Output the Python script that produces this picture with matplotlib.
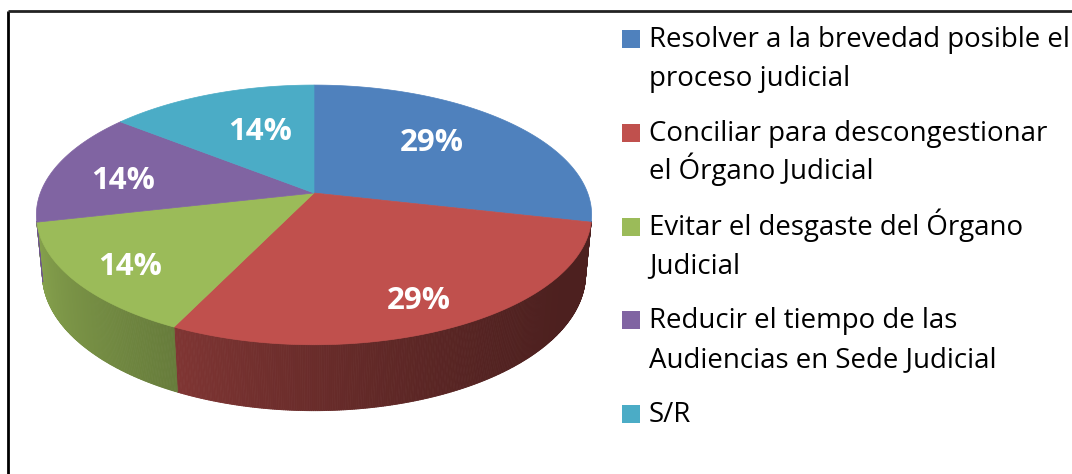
import numpy as np
import matplotlib
matplotlib.use("Agg")
import matplotlib.pyplot as plt
from matplotlib.collections import PolyCollection
from matplotlib.patches import Polygon, Rectangle

# ---- data ----
categories = [
    "Resolver a la brevedad posible el\nproceso judicial",
    "Conciliar para descongestionar\nel Órgano Judicial",
    "Evitar el desgaste del Órgano\nJudicial",
    "Reducir el tiempo de las\nAudiencias en Sede Judicial",
    "S/R",
]
values = [2, 2, 1, 1, 1]
colors = ["#4F81BD", "#C0504D", "#9BBB59", "#8064A2", "#4BACC6"]

# ---- geometry of the 3D pie (perspective projection) ----
W, Hpx = 1072, 474
fig = plt.figure(figsize=(W / 100, Hpx / 100), dpi=100)
ax = fig.add_axes([0, 0, 1, 1])
ax.set_xlim(0, W)
ax.set_ylim(Hpx, 0)
ax.axis("off")

cx, cy = 314.0, 193.0
theta = np.radians(27.45)
s, c = np.sin(theta), np.cos(theta)
D = 5.262
F = 1440.0
TH = 0.245


def proj(u, w, h):
    depth = D - h * s + w * c
    X = F * u / depth
    Y = F * (h * c + w * s) / depth
    return cx + X, cy - Y


def rgb(hexc):
    hexc = hexc.lstrip("#")
    return np.array([int(hexc[i:i + 2], 16) / 255 for i in (0, 2, 4)])


def shade(phi):
    return 0.66 - 0.2367 * np.cos(phi) + 0.11 * np.sin(phi)


total = float(sum(values))
fracs = np.array(values) / total
starts = 90 - 360 * np.concatenate([[0], np.cumsum(fracs)[:-1]])
ends = starts - 360 * fracs

# sides (front-facing only)
limit = -1.0 / (D * c)
side_polys, side_cols = [], []
for a1, a2, col in zip(starts, ends, colors):
    base = rgb(col)
    angs = np.radians(np.linspace(a1, a2, int(abs(a1 - a2) * 3) + 2))
    for p, q in zip(angs[:-1], angs[1:]):
        m = 0.5 * (p + q)
        if np.sin(m) >= limit:
            continue
        t1 = proj(np.cos(p), np.sin(p), 0)
        t2 = proj(np.cos(q), np.sin(q), 0)
        b2 = proj(np.cos(q), np.sin(q), -TH)
        b1 = proj(np.cos(p), np.sin(p), -TH)
        side_polys.append([t1, t2, b2, b1])
        side_cols.append(np.clip(base * shade(m), 0, 1))
pc = PolyCollection(side_polys, facecolors=side_cols, edgecolors=side_cols,
                    linewidths=0.6, zorder=2)
ax.add_collection(pc)

# top faces
for a1, a2, col in zip(starts, ends, colors):
    angs = np.radians(np.linspace(a1, a2, 200))
    pts = [proj(0, 0, 0)] + [proj(np.cos(a), np.sin(a), 0) for a in angs]
    ax.add_patch(Polygon(pts, closed=True, facecolor=col, edgecolor=col,
                         linewidth=0.5, zorder=3))

# data labels
label_r = [0.62, 0.79, 0.79, 0.74, 0.55]
label_nudge = [(-7, -7), (-2, 3), (0, 3), (1, 5), (6, -6)]
for a1, a2, fr, r, (dx, dy) in zip(starts, ends, fracs, label_r, label_nudge):
    m = np.radians(0.5 * (a1 + a2))
    x, y = proj(r * np.cos(m), r * np.sin(m), 0)
    ax.text(x + dx, y + 11 + dy, f"{fr * 100:.0f}%", color="white",
            fontsize=22.5, fontweight="bold", family="Open Sans",
            ha="center", va="baseline", zorder=5)

# legend (manual, Excel style)
lx_box, lx_text = 622, 649
y0, step, lstep = 47.0, 93.8, 38.5
for k, (lab, col) in enumerate(zip(categories, colors)):
    yb = y0 + k * step
    ax.add_patch(Rectangle((lx_box, yb - 17), 18, 18, facecolor=col,
                           edgecolor="none", zorder=4))
    for i, line in enumerate(lab.split("\n")):
        ax.text(lx_text, yb + i * lstep, line, fontsize=19.9, family="Open Sans",
                color="black", ha="left", va="baseline", zorder=4)

# chart border
ax.plot([8, 8], [11, Hpx + 2], color="black", lw=2, solid_capstyle="butt", zorder=6)
ax.plot([8, W + 2], [11, 11], color="#222222", lw=2, solid_capstyle="butt", zorder=6)

fig.savefig("out.png", dpi=100)
